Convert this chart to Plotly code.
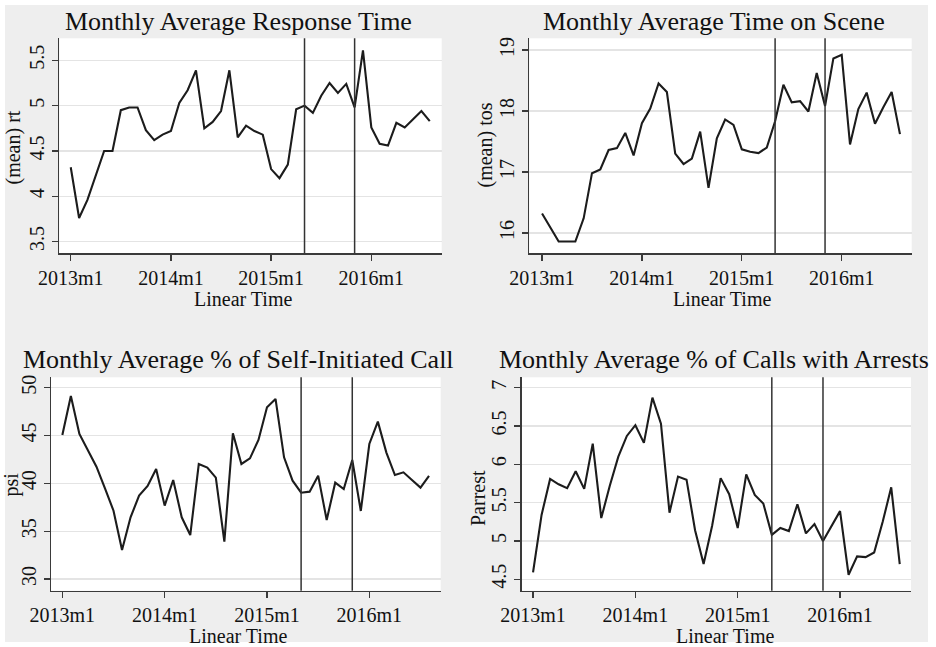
import plotly.graph_objects as go

W, H = 936, 647

# ---- data ----
month_index = list(range(44))  # 2013m1 .. 2016m8
x_tick_vals = [0, 12, 24, 36]
x_tick_text = ["2013m1", "2014m1", "2015m1", "2016m1"]
intervention_months = [28, 34]  # 2015m5, 2015m11

response_time = [4.32, 3.76, 3.96, 4.22, 4.50, 4.50, 4.95, 4.98, 4.98, 4.73, 4.62, 4.68,
                 4.72, 5.03, 5.17, 5.39, 4.75, 4.82, 4.94, 5.39, 4.65, 4.78, 4.72, 4.68,
                 4.30, 4.20, 4.35, 4.96, 5.00, 4.92, 5.11, 5.25, 5.14, 5.24, 4.98, 5.61,
                 4.76, 4.58, 4.56, 4.81, 4.76, 4.85, 4.94, 4.83]

time_on_scene = [16.32, 16.10, 15.86, 15.86, 15.86, 16.24, 16.98, 17.04, 17.36, 17.39, 17.64, 17.27,
                 17.80, 18.04, 18.45, 18.31, 17.30, 17.13, 17.22, 17.66, 16.74, 17.55, 17.86, 17.77,
                 17.37, 17.33, 17.31, 17.40, 17.83, 18.43, 18.14, 18.16, 17.99, 18.62, 18.08, 18.86,
                 18.92, 17.45, 18.03, 18.30, 17.79, 18.06, 18.31, 17.62]

pct_self_initiated = [45.05, 49.13, 45.16, 43.48, 41.74, 39.48, 37.14, 33.03, 36.45, 38.71, 39.72, 41.50,
                      37.67, 40.35, 36.45, 34.60, 42.02, 41.64, 40.59, 33.90, 45.23, 42.02, 42.61, 44.53,
                      47.94, 48.82, 42.72, 40.28, 39.02, 39.13, 40.80, 36.17, 40.07, 39.41, 42.44, 37.11,
                      44.11, 46.45, 43.21, 40.87, 41.15, 40.35, 39.55, 40.77]

pct_arrest = [4.59, 5.34, 5.81, 5.74, 5.69, 5.91, 5.68, 6.27, 5.30, 5.72, 6.10, 6.37,
              6.51, 6.28, 6.87, 6.53, 5.37, 5.84, 5.80, 5.14, 4.70, 5.20, 5.82, 5.61,
              5.17, 5.87, 5.60, 5.49, 5.08, 5.17, 5.13, 5.48, 5.10, 5.22, 5.00, 5.19,
              5.39, 4.56, 4.80, 4.79, 4.85, 5.25, 5.70, 4.70]

titles = ["Monthly Average Response Time", "Monthly Average Time on Scene",
          "Monthly Average % of Self-Initiated Call", "Monthly Average % of Calls with Arrests"]
y_titles = ["(mean) rt", "(mean) tos", "psi", "Parrest"]
x_title = "Linear Time"
y_ticks = [[3.5, 4, 4.5, 5, 5.5], [16, 17, 18, 19], [30, 35, 40, 45, 50],
           [4.5, 5, 5.5, 6, 6.5, 7]]
y_tick_text = [["3.5", "4", "4.5", "5", "5.5"], ["16", "17", "18", "19"],
               ["30", "35", "40", "45", "50"], ["4.5", "5", "5.5", "6", "6.5", "7"]]
series = [response_time, time_on_scene, pct_self_initiated, pct_arrest]

# ---- layout geometry (pixels) ----
plot_px = [  # left, right, top, bottom
    (59.3, 441.7, 38.3, 253.3),
    (529.3, 911.7, 38.3, 253.3),
    (51.0, 440.7, 377.3, 590.7),
    (521.7, 911.0, 377.3, 590.7),
]
x_ranges = [(-1.37, 44.43), (-1.53, 44.41), (-1.33, 44.37), (-1.33, 44.32)]
y_ranges = [(3.371, 5.743), (15.667, 19.19), (28.78, 51.08), (4.352, 7.135)]

title_pos = [(238.5, 21.5), (713.5, 21.5), (238.0, 359.0), (714.0, 359.0)]
ytitle_pos = [(13.0, 147.5), (484.5, 145.0), (10.5, 485.0), (478.0, 498.0)]
xtitle_pos = [(243.0, 299.0), (722.0, 299.0), (238.0, 636.0), (725.0, 636.0)]

FONT = "Liberation Serif"
LINE_COL = "#1c1c1c"
AXIS_COL = "#3a3a3a"
GRID_COL = "#e4e4e4"
BG = "#eeeeee"


def px_x(v):
    return v / W


def px_y(v):
    return 1 - v / H


fig = go.Figure()
annotations = []
shapes = []

for i in range(4):
    n = "" if i == 0 else str(i + 1)
    xa, ya = "x" + n, "y" + n
    l, r, t, b = plot_px[i]
    fig.add_trace(go.Scatter(x=month_index, y=series[i], mode="lines",
                             line=dict(color=LINE_COL, width=2.1),
                             xaxis=xa, yaxis=ya, showlegend=False, hoverinfo="skip"))
    fig.layout["xaxis" + n] = dict(
        domain=[px_x(l), px_x(r)], anchor=ya, range=list(x_ranges[i]), automargin=False,
        tickmode="array", tickvals=x_tick_vals, ticktext=x_tick_text,
        showgrid=False, zeroline=False, showline=True, linecolor=AXIS_COL, linewidth=1.3,
        ticks="outside", ticklen=6, tickwidth=1.3, tickcolor=AXIS_COL,
        tickfont=dict(family=FONT, size=20, color="#111111"),
    )
    fig.layout["yaxis" + n] = dict(
        domain=[px_y(b), px_y(t)], anchor=xa, range=list(y_ranges[i]), automargin=False,
        tickmode="array", tickvals=y_ticks[i], ticktext=y_tick_text[i],
        tickangle=-90,
        showgrid=True, gridcolor=GRID_COL, gridwidth=1.3, zeroline=False,
        showline=True, linecolor=AXIS_COL, linewidth=1.3,
        ticks="outside", ticklen=6, tickwidth=1.3, tickcolor=AXIS_COL,
        tickfont=dict(family=FONT, size=20, color="#111111"),
    )
    for m in intervention_months:
        shapes.append(dict(type="line", xref=xa, yref=ya + " domain", x0=m, x1=m, y0=0, y1=1,
                           line=dict(color="#333333", width=1.5), layer="above"))
    tx, ty = title_pos[i]
    annotations.append(dict(text=titles[i], x=px_x(tx), y=px_y(ty), xref="paper", yref="paper",
                            xanchor="center", yanchor="middle", showarrow=False,
                            font=dict(family=FONT, size=26, color="#111111")))
    yx, yy = ytitle_pos[i]
    annotations.append(dict(text=y_titles[i], x=px_x(yx), y=px_y(yy), xref="paper", yref="paper",
                            xanchor="center", yanchor="middle", showarrow=False, textangle=-90,
                            font=dict(family=FONT, size=20, color="#111111")))
    xx, xy = xtitle_pos[i]
    annotations.append(dict(text=x_title, x=px_x(xx), y=px_y(xy), xref="paper", yref="paper",
                            xanchor="center", yanchor="middle", showarrow=False,
                            font=dict(family=FONT, size=20, color="#111111")))

# white outer frame strips around the grey graph region
for (x0, x1, y0, y1) in [(0, 5, 0, H), (928, W, 0, H), (0, W, 0, 5), (0, W, 642, H)]:
    shapes.append(dict(type="rect", xref="paper", yref="paper",
                       x0=px_x(x0), x1=px_x(x1), y0=px_y(y1), y1=px_y(y0),
                       fillcolor="white", line=dict(width=0), layer="below"))

fig.update_layout(
    template="none",
    width=W, height=H, margin=dict(l=0, r=0, t=0, b=0, pad=0, autoexpand=False),
    paper_bgcolor=BG, plot_bgcolor="white",
    annotations=annotations, shapes=shapes,
    font=dict(family=FONT, size=20, color="#111111"),
)

fig.write_html("out.html", config={"displayModeBar": False, "staticPlot": True},
               post_script="document.body.style.margin='0';document.body.style.overflow='hidden';")
